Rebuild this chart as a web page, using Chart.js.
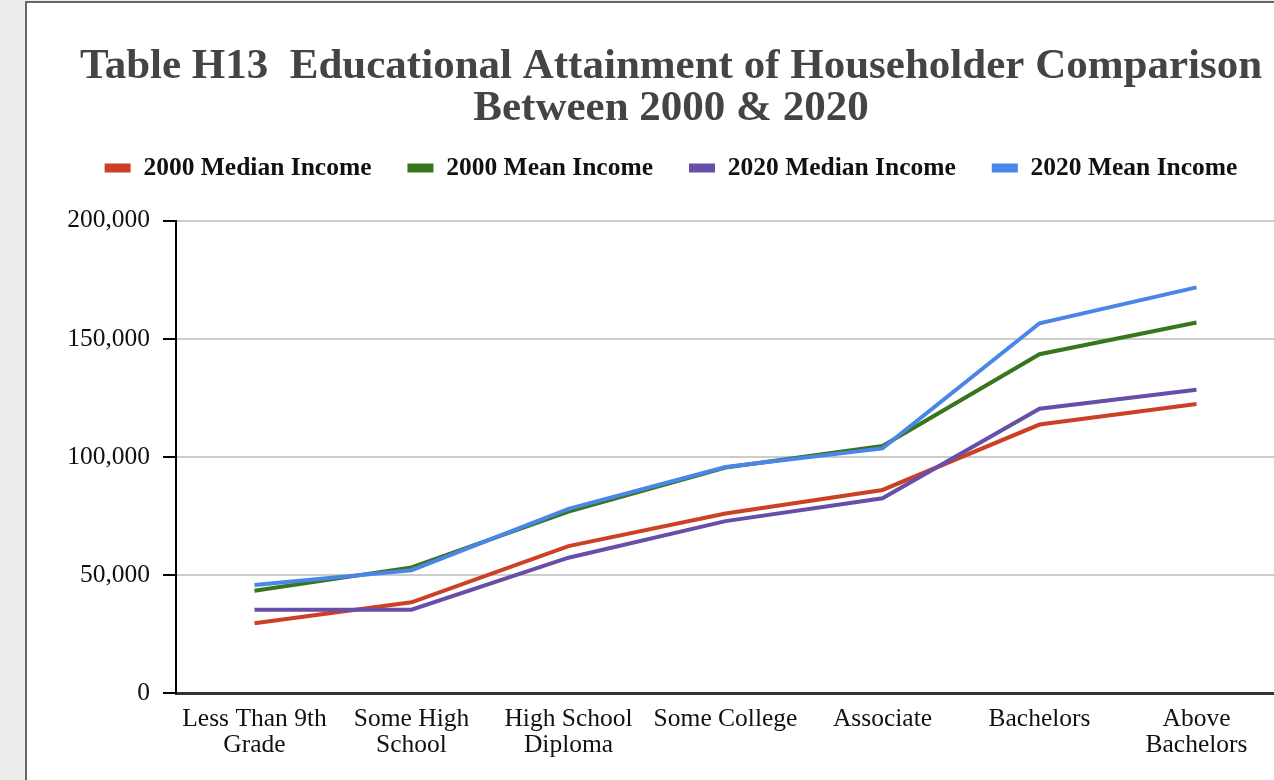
<!DOCTYPE html>
<html lang="en">
<head>
    <meta charset="UTF-8">
    <title>Table H13 Educational Attainment of Householder</title>
    <style>
        body {
            margin: 0;
            background-color: #eceeee;
            overflow: hidden;
        }
        .frame {
            position: absolute;
            left: 25px;
            top: 1px;
            width: 1300px;
            height: 800px;
            background: #ffffff;
            border-left: 2px solid #666666;
            border-top: 2px solid #666666;
        }
        .chart-box {
            position: relative;
            width: 1288px;
            height: 777px;
        }
    </style>
</head>
<body>
    <div class="frame">
        <div class="chart-box">
            <canvas id="incomeChart"></canvas>
        </div>
    </div>
    <script src="https://cdn.jsdelivr.net/npm/chart.js"></script>
    <script>
        const categories = [
            ['Less Than 9th', 'Grade'],
            ['Some High', 'School'],
            ['High School', 'Diploma'],
            'Some College',
            'Associate',
            'Bachelors',
            ['Above', 'Bachelors']
        ];
        const median2000 = [29500, 38400, 62200, 76000, 86000, 113700, 122400];
        const mean2000 = [43300, 53200, 76800, 95500, 104600, 143500, 156900];
        const median2020 = [35300, 35300, 57300, 72800, 82500, 120400, 128400];
        const mean2020 = [45700, 52000, 78000, 95700, 103600, 156600, 171800];

        const serif = "'Liberation Serif', 'Times New Roman', serif";

        // push the plot down a bit below the legend
        const legendSpacing = {
            id: 'legendSpacing',
            beforeInit(chart) {
                const fitLegend = chart.legend.fit;
                chart.legend.fit = function () {
                    fitLegend.bind(chart.legend)();
                    this.height += 30;
                };
            }
        };

        function makeLine(label, data, color, order) {
            return {
                label: label,
                data: data,
                borderColor: color,
                backgroundColor: color,
                borderWidth: 4,
                pointRadius: 0,
                tension: 0,
                order: order
            };
        }

        const ctx = document.getElementById('incomeChart').getContext('2d');
        new Chart(ctx, {
            type: 'line',
            data: {
                labels: categories,
                datasets: [
                    makeLine('2000 Median Income', median2000, '#cc4125', 4),
                    makeLine('2000 Mean Income', mean2000, '#38761d', 3),
                    makeLine('2020 Median Income', median2020, '#674ea7', 2),
                    makeLine('2020 Mean Income', mean2020, '#4a86e8', 1)
                ]
            },
            options: {
                responsive: true,
                maintainAspectRatio: false,
                animation: false,
                layout: {
                    padding: { left: 40, right: 40, top: 0, bottom: 8 }
                },
                scales: {
                    x: {
                        offset: true,
                        grid: { display: false, drawTicks: false },
                        border: { display: true, color: '#333333', width: 3 },
                        ticks: {
                            padding: 14,
                            maxRotation: 0,
                            autoSkip: false,
                            color: '#111111',
                            font: { family: serif, size: 25.5, lineHeight: 1 }
                        }
                    },
                    y: {
                        min: 0,
                        max: 200000,
                        afterFit: function (axis) {
                            axis.width = 109;
                        },
                        grid: {
                            color: '#cccccc',
                            lineWidth: 2,
                            tickColor: '#000000',
                            tickLength: 13,
                            tickWidth: 2
                        },
                        border: { display: true, color: '#000000', width: 2 },
                        ticks: {
                            stepSize: 50000,
                            padding: 13,
                            color: '#111111',
                            font: { family: serif, size: 25.5, lineHeight: 1 }
                        }
                    }
                },
                plugins: {
                    title: {
                        display: true,
                        text: ['Table H13  Educational Attainment of Householder Comparison', 'Between 2000 & 2020'],
                        color: '#444444',
                        font: { family: serif, size: 43, weight: 'bold', lineHeight: 0.98 },
                        padding: { top: 43, bottom: -11 }
                    },
                    legend: {
                        labels: {
                            boxWidth: 26,
                            boxHeight: 9,
                            padding: 36,
                            color: '#111111',
                            font: { family: serif, size: 25.5, weight: 'bold' },
                            sort: (a, b) => a.datasetIndex - b.datasetIndex,
                            generateLabels: function (chart) {
                                return Chart.defaults.plugins.legend.labels.generateLabels(chart)
                                    .map(item => Object.assign(item, { lineWidth: 0 }));
                            }
                        }
                    },
                    tooltip: { enabled: false }
                }
            },
            plugins: [legendSpacing]
        });
    </script>
</body>
</html>
